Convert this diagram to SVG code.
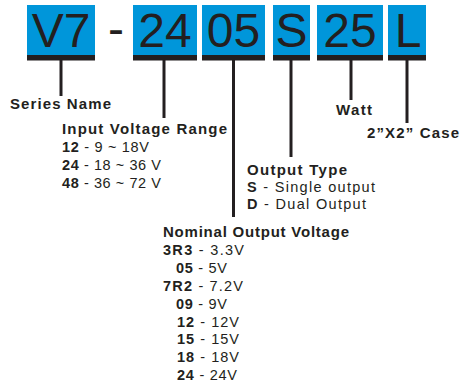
<svg xmlns="http://www.w3.org/2000/svg" width="461" height="387" viewBox="0 0 461 387">
<style>
.box{fill:#0096da}
.bar{fill:#231f20}
.big{font-family:"Liberation Sans",Arial,sans-serif;font-size:48px;fill:#231f20;text-anchor:middle}
.ln{stroke:#231f20;stroke-width:3;fill:none}
.t{font-family:"Liberation Sans",Arial,sans-serif;font-size:14.5px;fill:#231f20}
.h{font-size:15px}
.b{font-weight:bold}
</style>
<rect width="461" height="387" fill="#fff"/>
<g id="code">
<g id="seg-v7"><rect class="box" x="27" y="5" width="68" height="50"/><rect class="bar" x="27" y="55" width="68" height="5.5"/><text class="big" x="61" y="47">V7</text></g>
<text class="big" x="116" y="45">-</text>
<g id="seg-24"><rect class="box" x="133" y="5" width="64" height="50"/><rect class="bar" x="133" y="55" width="64" height="5.5"/><text class="big" x="165" y="47">24</text></g>
<g id="seg-05"><rect class="box" x="202" y="5" width="63" height="50"/><rect class="bar" x="202" y="55" width="63" height="5.5"/><text class="big" x="233.5" y="47">05</text></g>
<g id="seg-s"><rect class="box" x="273" y="5" width="37" height="50"/><rect class="bar" x="273" y="55" width="37" height="5.5"/><text class="big" x="291.5" y="47">S</text></g>
<g id="seg-25"><rect class="box" x="317" y="5" width="66" height="50"/><rect class="bar" x="317" y="55" width="66" height="5.5"/><text class="big" x="350" y="47">25</text></g>
<g id="seg-l"><rect class="box" x="388" y="5" width="38" height="50"/><rect class="bar" x="388" y="55" width="38" height="5.5"/><text class="big" x="408" y="47">L</text></g>
</g>
<g id="connectors">
<line class="ln" x1="61" y1="60" x2="61" y2="96"/>
<line class="ln" x1="164" y1="60" x2="164" y2="118"/>
<line class="ln" x1="233.5" y1="60" x2="233.5" y2="217"/>
<line class="ln" x1="291" y1="60" x2="291" y2="157"/>
<line class="ln" x1="351" y1="60" x2="351" y2="100"/>
<line class="ln" x1="407" y1="60" x2="407" y2="123"/>
</g>
<g id="series-name"><text class="t h b" x="10" y="109" textLength="101" lengthAdjust="spacing">Series Name</text></g>
<g id="input-voltage">
<text class="t h b" x="62" y="134" textLength="165" lengthAdjust="spacing">Input Voltage Range</text>
<text class="t" x="62" y="152" textLength="87" lengthAdjust="spacing"><tspan class="b">12</tspan> - 9 ~ 18V</text>
<text class="t" x="62" y="170" textLength="99" lengthAdjust="spacing"><tspan class="b">24</tspan> - 18 ~ 36 V</text>
<text class="t" x="62" y="188" textLength="99" lengthAdjust="spacing"><tspan class="b">48</tspan> - 36 ~ 72 V</text>
</g>
<g id="watt"><text class="t h b" x="336" y="115" textLength="36" lengthAdjust="spacing">Watt</text></g>
<g id="case"><text class="t h b" x="367" y="138" textLength="92" lengthAdjust="spacing">2”X2” Case</text></g>
<g id="output-type">
<text class="t h b" x="247" y="175" textLength="100" lengthAdjust="spacing">Output Type</text>
<text class="t" x="247" y="192" textLength="128" lengthAdjust="spacing"><tspan class="b">S</tspan> - Single output</text>
<text class="t" x="247" y="209" textLength="119" lengthAdjust="spacing"><tspan class="b">D</tspan> - Dual Output</text>
</g>
<g id="nominal-voltage">
<text class="t h b" x="163" y="237" textLength="186" lengthAdjust="spacing">Nominal Output Voltage</text>
<text class="t" x="163" y="255" textLength="81" lengthAdjust="spacing"><tspan class="b">3R3</tspan> - 3.3V</text>
<text class="t" x="176" y="273" textLength="51" lengthAdjust="spacing"><tspan class="b">05</tspan> - 5V</text>
<text class="t" x="163" y="291" textLength="80" lengthAdjust="spacing"><tspan class="b">7R2</tspan> - 7.2V</text>
<text class="t" x="176" y="309" textLength="51" lengthAdjust="spacing"><tspan class="b">09</tspan> - 9V</text>
<text class="t" x="177" y="327" textLength="62" lengthAdjust="spacing"><tspan class="b">12</tspan> - 12V</text>
<text class="t" x="177" y="344" textLength="62" lengthAdjust="spacing"><tspan class="b">15</tspan> - 15V</text>
<text class="t" x="177" y="362" textLength="62" lengthAdjust="spacing"><tspan class="b">18</tspan> - 18V</text>
<text class="t" x="177" y="380" textLength="60" lengthAdjust="spacing"><tspan class="b">24</tspan> - 24V</text>
</g>
</svg>
